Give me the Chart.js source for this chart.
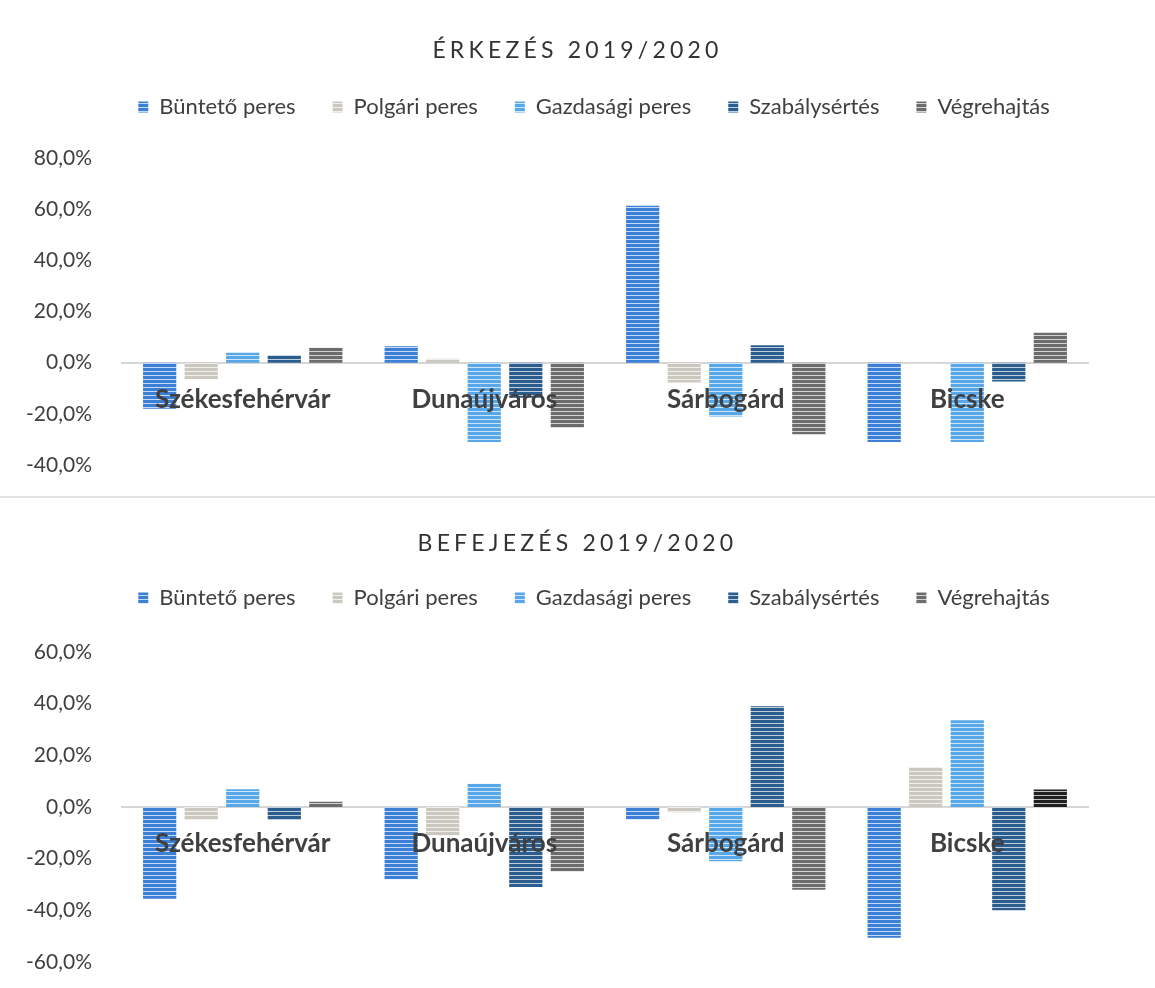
<!DOCTYPE html>
<html>
<head>
<meta charset="utf-8">
<title>Érkezés / Befejezés 2019/2020</title>
<script src="https://cdn.jsdelivr.net/npm/chart.js@4.4.1/dist/chart.umd.min.js"></script>
<style>
  body { margin: 0; background: #fff; font-family: Lato, "Open Sans", sans-serif; }
  .card { position: absolute; left: 0; width: 1155px; }
  .card h2 {
    position: absolute; left: 0; right: 0; margin: 0;
    text-align: center; font-weight: normal; font-size: 23px;
    letter-spacing: 4.2px; color: #333; z-index: 2;
  }
  .sep { position: absolute; left: 0; width: 1155px; top: 496px; height: 2px; background: #e3e3e3; }
</style>
</head>
<body>
<div class="card" style="top:0;height:495px">
  <h2 style="top:35px">ÉRKEZÉS 2019/2020</h2>
  <canvas id="arrivalChart"></canvas>
</div>
<div class="sep"></div>
<div class="card" style="top:500px;height:488px">
  <h2 style="top:28px">BEFEJEZÉS 2019/2020</h2>
  <canvas id="closingChart"></canvas>
</div>

<script>
const courts = ["Székesfehérvár", "Dunaújváros", "Sárbogárd", "Bicske"];
const caseTypes = ["Büntető peres", "Polgári peres", "Gazdasági peres", "Szabálysértés", "Végrehajtás"];

// ÉRKEZÉS 2019/2020 (%)
const arrivalCriminal = [-18, 6.4, 61.3, -31];
const arrivalCivil = [-6.5, 1.5, -7.8, -0.3];
const arrivalCommercial = [3.9, -31, -21, -31];
const arrivalPetty = [2.9, -13.7, 6.8, -7.4];
const arrivalEnforcement = [5.8, -25.4, -28, 11.7];
const arrivalTicks = [-40, -20, 0, 20, 40, 60, 80];

// BEFEJEZÉS 2019/2020 (%)
const closingCriminal = [-35.5, -28, -4.8, -50.6];
const closingCivil = [-5, -11, -2, 15.5];
const closingCommercial = [6.9, 9, -21, 33.6];
const closingPetty = [-5, -31, 39, -40];
const closingEnforcement = [2, -25, -32, 6.8];
const closingTicks = [-60, -40, -20, 0, 20, 40, 60];

const colors = ["#3b7fd6", "#cbc9bf", "#58a7e8", "#2b5d8e", "#6c6c6c"];

// striped fill like the original bars
function stripes(color) {
  const c = document.createElement("canvas");
  c.width = 4; c.height = 4;
  const g = c.getContext("2d");
  g.fillStyle = color;
  g.fillRect(0, 0, 4, 4);
  g.fillStyle = "rgba(255,255,255,0.7)";
  g.fillRect(0, 3, 4, 1);
  return g.createPattern(c, "repeat");
}

const fills = colors.map(stripes);
const blackFill = stripes("#1f1f1f");

function makeChart(id, series, ticks, pad, legendGap, highlightLast) {
  const datasets = series.map((data, i) => ({
    label: caseTypes[i],
    data: data,
    backgroundColor: (highlightLast && i === 4)
      ? (ctx => ctx.dataIndex === 3 ? blackFill : fills[i])
      : fills[i],
    borderWidth: 0,
    categoryPercentage: 0.86,
    barPercentage: 0.8
  }));

  return new Chart(document.getElementById(id), {
    type: "bar",
    data: { labels: courts, datasets },
    options: {
      responsive: true,
      maintainAspectRatio: false,
      animation: false,
      layout: { padding: pad },
      plugins: {
        legend: {
          position: "top",
          labels: {
            boxWidth: 10,
            boxHeight: 11,
            padding: 37,
            color: "#404040",
            font: { family: "Lato", size: 22 }
          }
        },
        title: { display: false },
        tooltip: { enabled: false }
      },
      scales: {
        x: {
          position: { y: 0 },
          afterFit: s => { s.height = 0; },
          grid: { display: false, drawTicks: false },
          border: { color: "#d6d6d6", width: 2 },
          ticks: {
            z: 1,
            padding: 21,
            color: "#404040",
            font: { family: "Lato", size: 26, weight: "bold" }
          }
        },
        y: {
          min: ticks[0],
          max: ticks[ticks.length - 1],
          afterFit: s => {
            s.width = 122;
            // don't let the label padding push the plot edges
            s.paddingTop = 0;
            s.paddingBottom = 0;
          },
          grid: { display: false, drawTicks: false },
          border: { display: false },
          ticks: {
            stepSize: 20,
            padding: 30,
            color: "#404040",
            font: { family: "Lato", size: 21 },
            callback: v => v.toFixed(1).replace(".", ",") + "%"
          }
        }
      }
    },
    plugins: [{
      id: "legendGap",
      beforeInit(chart) {
        const fit = chart.legend.fit;
        chart.legend.fit = function () {
          fit.bind(chart.legend)();
          this.height += legendGap;
        };
      },
      afterLayout(chart) {
        // the original legend sits a little right of centre
        chart.legend.left += 50;
        chart.legend.right += 50;
      }
    }]
  });
}

makeChart("arrivalChart",
  [arrivalCriminal, arrivalCivil, arrivalCommercial, arrivalPetty, arrivalEnforcement],
  arrivalTicks, { top: 59, right: 67, bottom: 30, left: 0 }, 30, false);

makeChart("closingChart",
  [closingCriminal, closingCivil, closingCommercial, closingPetty, closingEnforcement],
  closingTicks, { top: 50, right: 67, bottom: 26, left: 0 }, 33, true);
</script>
</body>
</html>
